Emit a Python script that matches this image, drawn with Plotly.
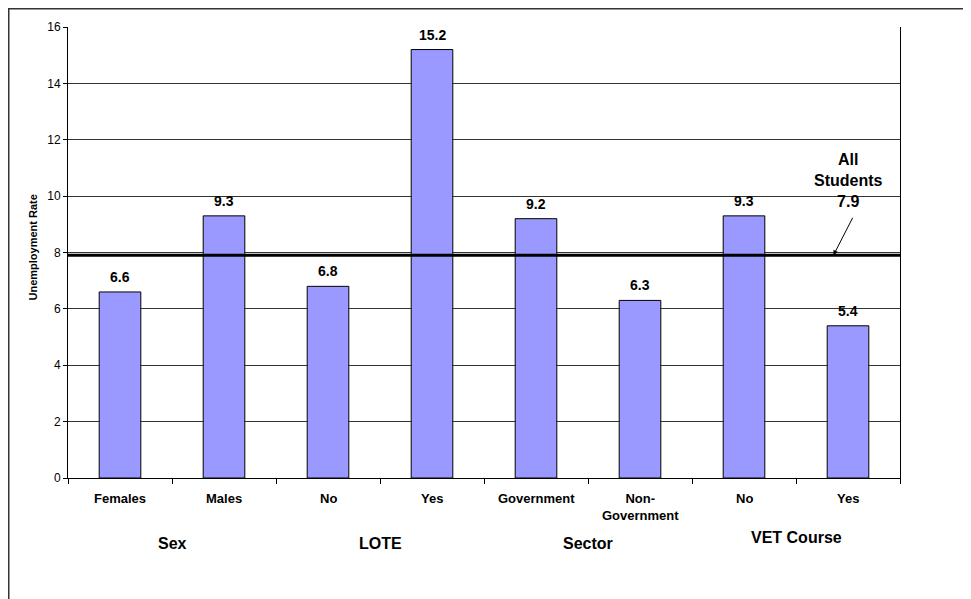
import plotly.graph_objects as go

# ---- data ----
category_labels = ["Females", "Males", "No", "Yes", "Government", "Non-<br>Government", "No", "Yes"]
unemployment_rate = [6.6, 9.3, 6.8, 15.2, 9.2, 6.3, 9.3, 5.4]
group_names = ["Sex", "LOTE", "Sector", "VET Course"]
group_members = [[0, 1], [2, 3], [4, 5], [6, 7]]
all_students_rate = 7.9
y_ticks = [0, 2, 4, 6, 8, 10, 12, 14, 16]

FONT = "Liberation Sans, Arial, sans-serif"
# page body adds an 8px offset; the figure is sized to fit the 971x599 window
W, H = 963, 591
L, R, T, B = 60, 71, 19, 121
plot_w = W - L - R
plot_h = H - T - B

x_pos = list(range(len(unemployment_rate)))

fig = go.Figure()
fig.add_trace(go.Bar(
    x=x_pos, y=unemployment_rate, width=0.4,
    marker=dict(color="#9999FF", line=dict(color="#000000", width=1)),
    hoverinfo="y", showlegend=False,
))

annotations = []
# value labels
for xi, v in zip(x_pos, unemployment_rate):
    annotations.append(dict(x=xi, y=v, xref="x", yref="y", text=f"<b>{v}</b>",
                            showarrow=False, yanchor="bottom", yshift=5,
                            font=dict(family=FONT, size=14, color="black")))
# category labels
for xi, lab in zip(x_pos, category_labels):
    annotations.append(dict(x=xi, y=0, xref="x", yref="y", text=f"<b>{lab}</b>",
                            showarrow=False, yanchor="top", yshift=-11,
                            font=dict(family=FONT, size=13, color="black")))
# group labels
for name, mem in zip(group_names, group_members):
    cx = sum(mem) / len(mem)
    shift = -59 if name == "VET Course" else -65
    annotations.append(dict(x=cx, y=0, xref="x", yref="y", text=f"<b>{name}</b>",
                            showarrow=False, yanchor="middle", yshift=shift,
                            font=dict(family=FONT, size=16, color="black")))
# All students label
annotations.append(dict(x=7.0, y=10.54, xref="x", yref="y",
                        text=f"<b>All<br>Students<br>{all_students_rate}</b>",
                        showarrow=False, yanchor="middle",
                        font=dict(family=FONT, size=16, color="black")))
# arrow
annotations.append(dict(x=6.86, y=all_students_rate, xref="x", yref="y", text="",
                        showarrow=True, arrowhead=2, arrowsize=1, arrowwidth=1,
                        arrowcolor="black", ax=20, ay=-39))
# y axis title
annotations.append(dict(x=(24 - L) / plot_w, y=(H - B - 239.5) / plot_h,
                        xref="paper", yref="paper", text="<b>Unemployment Rate</b>",
                        textangle=-90, showarrow=False, xanchor="center", yanchor="middle",
                        font=dict(family=FONT, size=11, color="black")))

shapes = [
    # all-students reference line
    dict(type="line", xref="paper", yref="y", x0=0, x1=1,
         y0=all_students_rate, y1=all_students_rate,
         line=dict(color="black", width=3)),
    # outer frame
    dict(type="rect", xref="paper", yref="paper",
         x0=(0.75 - L) / plot_w, x1=(W + 10 - L) / plot_w,
         y0=(H - B - (H + 10)) / plot_h, y1=(H - B - 0.75) / plot_h,
         line=dict(color="#333333", width=1.5)),
]

fig.update_layout(
    width=W, height=H,
    margin=dict(l=L, r=R, t=T, b=B, pad=0),
    paper_bgcolor="white", plot_bgcolor="white",
    font=dict(family=FONT, color="black"),
    annotations=annotations, shapes=shapes,
    bargap=0.6,
    xaxis=dict(range=[-0.5, 7.5], tickmode="array",
               tickvals=[i - 0.5 for i in range(len(unemployment_rate) + 1)],
               ticktext=[""] * (len(unemployment_rate) + 1),
               ticks="outside", ticklen=5, tickcolor="black",
               showline=True, linecolor="black", linewidth=1,
               showgrid=False, zeroline=False, fixedrange=True),
    yaxis=dict(range=[0, 16], tickmode="array", tickvals=y_ticks,
               ticktext=[str(t) for t in y_ticks],
               ticks="outside", ticklen=4, tickcolor="black",
               tickfont=dict(family=FONT, size=12, color="black"),
               showline=True, linecolor="black", linewidth=1, mirror=True,
               showgrid=True, gridcolor="#333333", gridwidth=1,
               zeroline=False, fixedrange=True),
)

fig.write_html("out.html")
